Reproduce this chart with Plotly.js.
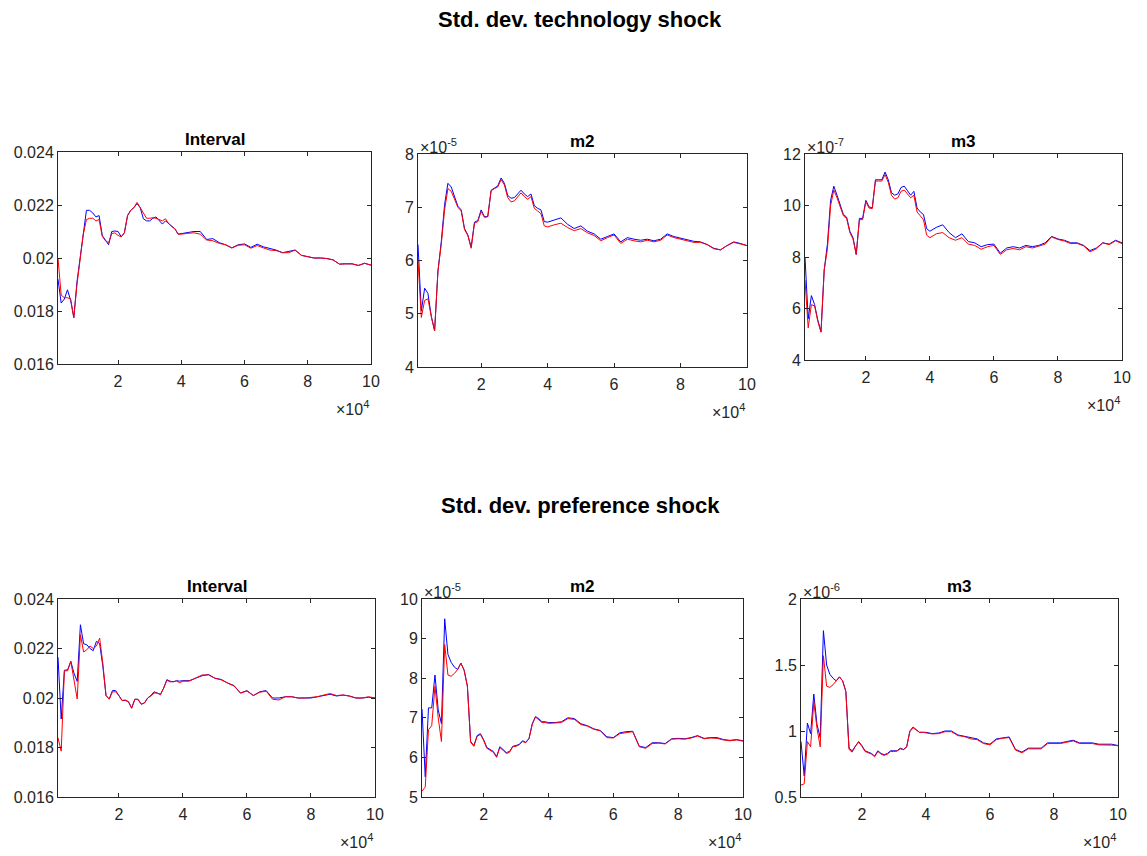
<!DOCTYPE html>
<html><head><meta charset="utf-8">
<script src="https://cdn.plot.ly/plotly-3.0.1.min.js"></script>
<style>html,body{margin:0;padding:0;background:#fff}</style>
</head><body><div id="chart" style="width:1147px;height:856px"></div>
<script>
// x: number of draws, in units of 10^4
const drawsE4 = [0.1,0.2,0.3,0.4,0.5,0.6,0.7,0.8,0.9,1.0,
 1.1,1.2,1.3,1.4,1.5,1.6,1.7,1.8,1.9,2.0,
 2.1,2.2,2.3,2.4,2.5,2.6,2.7,2.8,2.9,3.0,
 3.1,3.2,3.3,3.4,3.5,3.6,3.7,3.8,3.9,4.0,
 4.2,4.4,4.6,4.8,5.0,5.2,5.4,5.6,5.8,6.0,
 6.2,6.4,6.6,6.8,7.0,7.2,7.4,7.6,7.8,8.0,
 8.2,8.4,8.6,8.8,9.0,9.2,9.4,9.6,9.8,10.0];

const xTickVals = [2,4,6,8,10];
const xTickText = ["2","4","6","8","10"];

// Std. dev. technology shock
const techIntervalBlue = [0.0192,0.0183,0.01845,0.0188,0.0184,0.01775,0.0191,0.0200,0.0211,0.0218,
 0.0218,0.0217,0.02155,0.0216,0.02085,0.02065,0.0205,0.0210,0.02102,0.0210,
 0.0208,0.02095,0.0216,0.0218,0.0219,0.02205,0.0219,0.02148,0.0214,0.0214,
 0.0215,0.02155,0.0214,0.02128,0.0214,0.0213,0.02118,0.0211,0.0209,0.02092,
 0.02095,0.0210,0.0210,0.0207,0.02073,0.02058,0.0205,0.02038,0.0205,0.02053,
 0.0204,0.02052,0.02042,0.02035,0.0203,0.0202,0.02025,0.0203,0.0201,0.02005,
 0.0200,0.0200,0.01998,0.01993,0.01977,0.01978,0.01978,0.01972,0.0198,0.01973];
const techIntervalRed = [0.0200,0.0186,0.0185,0.0185,0.01845,0.01775,0.0190,0.0199,0.0209,0.02145,
 0.0215,0.0215,0.0214,0.02145,0.02082,0.02065,0.02058,0.02092,0.02095,0.02085,
 0.0208,0.02095,0.0216,0.0218,0.0219,0.0221,0.0219,0.02165,0.0215,0.0215,
 0.02152,0.0215,0.02145,0.0214,0.02148,0.0213,0.02118,0.0211,0.0209,0.0209,
 0.02093,0.02095,0.0209,0.02068,0.02065,0.02055,0.0205,0.02038,0.02048,0.0205,
 0.02037,0.02047,0.02038,0.0203,0.02028,0.0202,0.0202,0.0203,0.0201,0.02005,
 0.0200,0.0200,0.01998,0.01993,0.01977,0.01978,0.01978,0.01972,0.0198,0.01973];
// m2, in units of 10^-5
const techM2Blue = [6.3,5.05,5.48,5.38,4.95,4.68,5.8,6.35,7.05,7.45,
 7.38,7.18,7.02,6.95,6.6,6.48,6.25,6.72,6.75,6.95,
 6.82,6.83,7.32,7.36,7.4,7.55,7.45,7.22,7.17,7.18,
 7.26,7.32,7.25,7.2,7.25,7.03,6.98,6.95,6.73,6.72,
 6.76,6.8,6.68,6.6,6.65,6.55,6.5,6.4,6.45,6.5,
 6.35,6.43,6.4,6.38,6.4,6.37,6.4,6.5,6.45,6.42,
 6.39,6.36,6.35,6.3,6.23,6.2,6.28,6.35,6.32,6.28];
const techM2Red = [6.0,4.93,5.25,5.28,4.95,4.68,5.8,6.3,6.95,7.35,
 7.3,7.15,7.0,6.93,6.58,6.47,6.23,6.7,6.73,6.92,
 6.81,6.82,7.31,7.35,7.38,7.52,7.42,7.18,7.1,7.12,
 7.2,7.27,7.2,7.15,7.2,6.98,6.93,6.88,6.65,6.63,
 6.67,6.7,6.62,6.56,6.6,6.52,6.47,6.37,6.43,6.48,
 6.32,6.4,6.37,6.35,6.38,6.35,6.38,6.48,6.43,6.4,
 6.37,6.34,6.34,6.3,6.22,6.2,6.28,6.34,6.31,6.28];
// m3, in units of 10^-7
const techM3Blue = [8.0,5.6,6.5,6.15,5.55,5.1,7.5,8.5,10.2,10.75,
 10.4,10.0,9.65,9.55,9.0,8.75,8.1,9.5,9.5,10.2,
 9.95,9.9,11.0,11.0,11.0,11.3,11.0,10.5,10.4,10.45,
 10.7,10.75,10.55,10.4,10.55,9.9,9.75,9.65,9.1,9.0,
 9.15,9.25,8.95,8.75,8.9,8.6,8.55,8.4,8.48,8.5,
 8.15,8.35,8.4,8.35,8.45,8.4,8.45,8.55,8.8,8.7,
 8.65,8.55,8.55,8.45,8.25,8.35,8.55,8.5,8.65,8.55];
const techM3Red = [7.1,5.25,6.15,6.1,5.5,5.08,7.5,8.3,10.0,10.6,
 10.3,9.95,9.6,9.5,8.95,8.7,8.1,9.45,9.45,10.15,
 9.9,9.88,10.95,10.95,10.95,11.2,10.9,10.4,10.25,10.3,
 10.55,10.6,10.45,10.3,10.4,9.75,9.6,9.45,8.85,8.75,
 8.9,8.95,8.75,8.65,8.75,8.5,8.45,8.3,8.4,8.45,
 8.1,8.28,8.33,8.28,8.4,8.35,8.42,8.5,8.78,8.68,
 8.62,8.52,8.53,8.43,8.2,8.32,8.55,8.48,8.63,8.52];

// Std. dev. preference shock
const prefIntervalBlue = [0.02165,0.01915,0.02112,0.02114,0.02148,0.0210,0.02067,0.02296,0.02219,0.02215,
 0.0220,0.02191,0.02229,0.0222,0.02128,0.0201,0.01996,0.0203,0.0203,0.0201,
 0.0199,0.0199,0.01985,0.0196,0.01995,0.01995,0.01975,0.0198,0.0200,0.0201,
 0.02025,0.0202,0.02015,0.0204,0.02074,0.02068,0.02065,0.0207,0.02068,0.0207,
 0.0207,0.0208,0.0209,0.02095,0.0208,0.02075,0.0206,0.0205,0.0202,0.0203,
 0.0201,0.02025,0.0203,0.0200,0.0200,0.02005,0.02005,0.0200,0.0200,0.0200,
 0.02005,0.0201,0.02015,0.02008,0.02012,0.02008,0.0200,0.0200,0.02003,0.0200];
const prefIntervalRed = [0.01839,0.01785,0.0211,0.0211,0.02148,0.0208,0.01996,0.02256,0.02186,0.02195,
 0.0221,0.0220,0.0221,0.02242,0.0214,0.0201,0.01995,0.02025,0.02025,0.0201,
 0.0199,0.01992,0.01985,0.01958,0.01995,0.01993,0.01975,0.0198,0.0200,0.02008,
 0.0202,0.0202,0.02013,0.0204,0.02072,0.02065,0.02065,0.02068,0.02062,0.02068,
 0.02068,0.0208,0.02093,0.02093,0.0208,0.02073,0.0206,0.02048,0.0202,0.02028,
 0.0201,0.02023,0.02028,0.01995,0.01992,0.02005,0.02005,0.0200,0.0200,0.02003,
 0.02005,0.02012,0.02018,0.0201,0.02012,0.02008,0.0200,0.0200,0.02005,0.0200];
// m2, in units of 10^-5
const prefM2Blue = [7.22,5.51,7.25,7.25,8.08,7.2,6.85,9.5,8.6,8.4,
 8.28,8.22,8.38,8.2,7.8,6.4,6.3,6.55,6.6,6.45,
 6.25,6.2,6.15,6.02,6.27,6.2,6.12,6.15,6.28,6.3,
 6.33,6.42,6.38,6.48,6.85,7.03,6.98,6.9,6.9,6.88,
 6.88,6.9,7.0,6.98,6.85,6.8,6.72,6.68,6.52,6.5,
 6.62,6.65,6.66,6.28,6.25,6.37,6.37,6.35,6.47,6.48,
 6.47,6.5,6.55,6.48,6.5,6.5,6.45,6.43,6.45,6.42];
const prefM2Red = [5.15,5.25,6.7,6.8,7.8,7.0,6.4,8.85,8.08,8.05,
 8.12,8.22,8.38,8.2,7.8,6.38,6.28,6.53,6.58,6.43,
 6.23,6.18,6.13,6.0,6.25,6.18,6.1,6.13,6.27,6.28,
 6.32,6.4,6.37,6.47,6.83,7.02,6.96,6.88,6.88,6.86,
 6.87,6.88,6.98,6.96,6.83,6.79,6.71,6.67,6.5,6.49,
 6.6,6.63,6.65,6.27,6.23,6.35,6.36,6.34,6.46,6.47,
 6.46,6.49,6.54,6.47,6.49,6.48,6.44,6.42,6.44,6.41];
// m3, in units of 10^-6
const prefM3Blue = [0.92,0.66,1.06,0.98,1.28,1.05,0.95,1.76,1.5,1.43,
 1.4,1.38,1.41,1.38,1.3,0.87,0.85,0.89,0.92,0.89,
 0.85,0.84,0.83,0.81,0.85,0.83,0.82,0.83,0.85,0.85,
 0.85,0.87,0.86,0.88,1.0,1.03,1.01,0.99,0.99,0.99,
 0.98,0.985,1.0,1.0,0.97,0.96,0.945,0.94,0.91,0.9,
 0.94,0.95,0.955,0.86,0.84,0.87,0.87,0.87,0.91,0.91,
 0.91,0.92,0.93,0.91,0.91,0.91,0.9,0.9,0.9,0.89];
const prefM3Red = [0.59,0.6,0.92,0.88,1.22,1.02,0.88,1.57,1.34,1.33,
 1.35,1.38,1.41,1.38,1.3,0.86,0.84,0.885,0.915,0.885,
 0.845,0.835,0.825,0.805,0.845,0.825,0.815,0.825,0.845,0.845,
 0.848,0.865,0.858,0.878,0.995,1.025,1.005,0.99,0.99,0.985,
 0.978,0.98,0.995,0.995,0.965,0.958,0.94,0.935,0.905,0.895,
 0.935,0.945,0.95,0.855,0.835,0.865,0.865,0.865,0.905,0.905,
 0.905,0.915,0.925,0.905,0.905,0.905,0.895,0.895,0.893,0.888];

const groupTitles = ["Std. dev. technology shock", "Std. dev. preference shock"];
const panelTitles = ["Interval","m2","m3","Interval","m2","m3"];
const yExponents = ["", "×10<sup>-5</sup>", "×10<sup>-7</sup>", "", "×10<sup>-5</sup>", "×10<sup>-6</sup>"];
const xExponent = "×10<sup>4</sup>";

const yRanges = [[0.016,0.024],[4,8],[4,12],[0.016,0.024],[5,10],[0.5,2]];
const yTickVals = [
 [0.016,0.018,0.02,0.022,0.024],[4,5,6,7,8],[4,6,8,10,12],
 [0.016,0.018,0.02,0.022,0.024],[5,6,7,8,9,10],[0.5,1,1.5,2]];
const yTickText = [
 ["0.016","0.018","0.02","0.022","0.024"],["4","5","6","7","8"],["4","6","8","10","12"],
 ["0.016","0.018","0.02","0.022","0.024"],["5","6","7","8","9","10"],["0.5","1","1.5","2"]];

const blueSeries = [techIntervalBlue, techM2Blue, techM3Blue, prefIntervalBlue, prefM2Blue, prefM3Blue];
const redSeries  = [techIntervalRed,  techM2Red,  techM3Red,  prefIntervalRed,  prefM2Red,  prefM3Red];

// ---------- layout (pixel boxes of plot areas) ----------
const W = 1147, H = 856;
const boxes = [
 {l:58, r:371, t:152, b:364},
 {l:418, r:747, t:154, b:367},
 {l:805, r:1122, t:154, b:360},
 {l:58, r:375, t:599, b:797},
 {l:422, r:743, t:599, b:797},
 {l:801, r:1118, t:599, b:797}
];
const FONT = "Liberation Sans, Arial, Helvetica, sans-serif";
const AX = "#262626";
const TICK = 16;

const traces = [];
const layout = {
  width: W, height: H, margin: {l:0, r:0, t:0, b:0},
  paper_bgcolor: "#fff", plot_bgcolor: "#fff", showlegend: false,
  font: {family: FONT, color: AX, size: TICK},
  annotations: []
};

boxes.forEach((bx, i) => {
  const n = i + 1;
  const xa = "x" + n, ya = "y" + n;
  traces.push({x: drawsE4, y: blueSeries[i], xaxis: xa, yaxis: ya, type: "scatter", mode: "lines",
               line: {color: "#0000ff", width: 1}, hoverinfo: "skip"});
  traces.push({x: drawsE4, y: redSeries[i], xaxis: xa, yaxis: ya, type: "scatter", mode: "lines",
               line: {color: "#ff0000", width: 1}, hoverinfo: "skip"});
  const common = {showline: true, linecolor: AX, linewidth: 1, mirror: "ticks", ticks: "inside",
                  ticklen: 4, tickwidth: 1, tickcolor: AX, showgrid: false, zeroline: false,
                  tickfont: {family: FONT, size: TICK, color: AX}, fixedrange: true};
  layout["xaxis" + n] = Object.assign({}, common, {
    domain: [bx.l / W, bx.r / W], anchor: ya, range: [0.1, 10],
    tickmode: "array", tickvals: xTickVals, ticktext: xTickText, ticklabelstandoff: 3
  });
  layout["yaxis" + n] = Object.assign({}, common, {
    domain: [1 - bx.b / H, 1 - bx.t / H], anchor: xa, range: yRanges[i],
    tickmode: "array", tickvals: yTickVals[i], ticktext: yTickText[i]
  });
  // panel title
  layout.annotations.push({text: "<b>" + panelTitles[i] + "</b>", xref: "paper", yref: "paper",
    x: (bx.l + bx.r) / 2 / W, y: 1 - bx.t / H, xanchor: "center", yanchor: "bottom", yshift: 1,
    showarrow: false, font: {family: FONT, size: 17, color: "#000"}});
  // y exponent
  if (yExponents[i]) {
    layout.annotations.push({text: yExponents[i], xref: "paper", yref: "paper",
      x: bx.l / W, y: 1 - bx.t / H, xanchor: "left", yanchor: "bottom", yshift: -4,
      showarrow: false, font: {family: FONT, size: TICK, color: AX}});
  }
  // x exponent
  layout.annotations.push({text: xExponent, xref: "paper", yref: "paper",
    x: bx.r / W, y: 1 - bx.b / H, xanchor: "right", yanchor: "top", yshift: -32,
    showarrow: false, font: {family: FONT, size: TICK, color: AX}});
});

// group titles
[20, 505].forEach((py, k) => {
  layout.annotations.push({text: "<b>" + groupTitles[k] + "</b>", xref: "paper", yref: "paper",
    x: 580 / W, y: 1 - py / H, xanchor: "center", yanchor: "middle",
    showarrow: false, font: {family: FONT, size: 22, color: "#000"}});
});

Plotly.newPlot("chart", traces, layout, {staticPlot: true, displayModeBar: false});
</script>
</body></html>
